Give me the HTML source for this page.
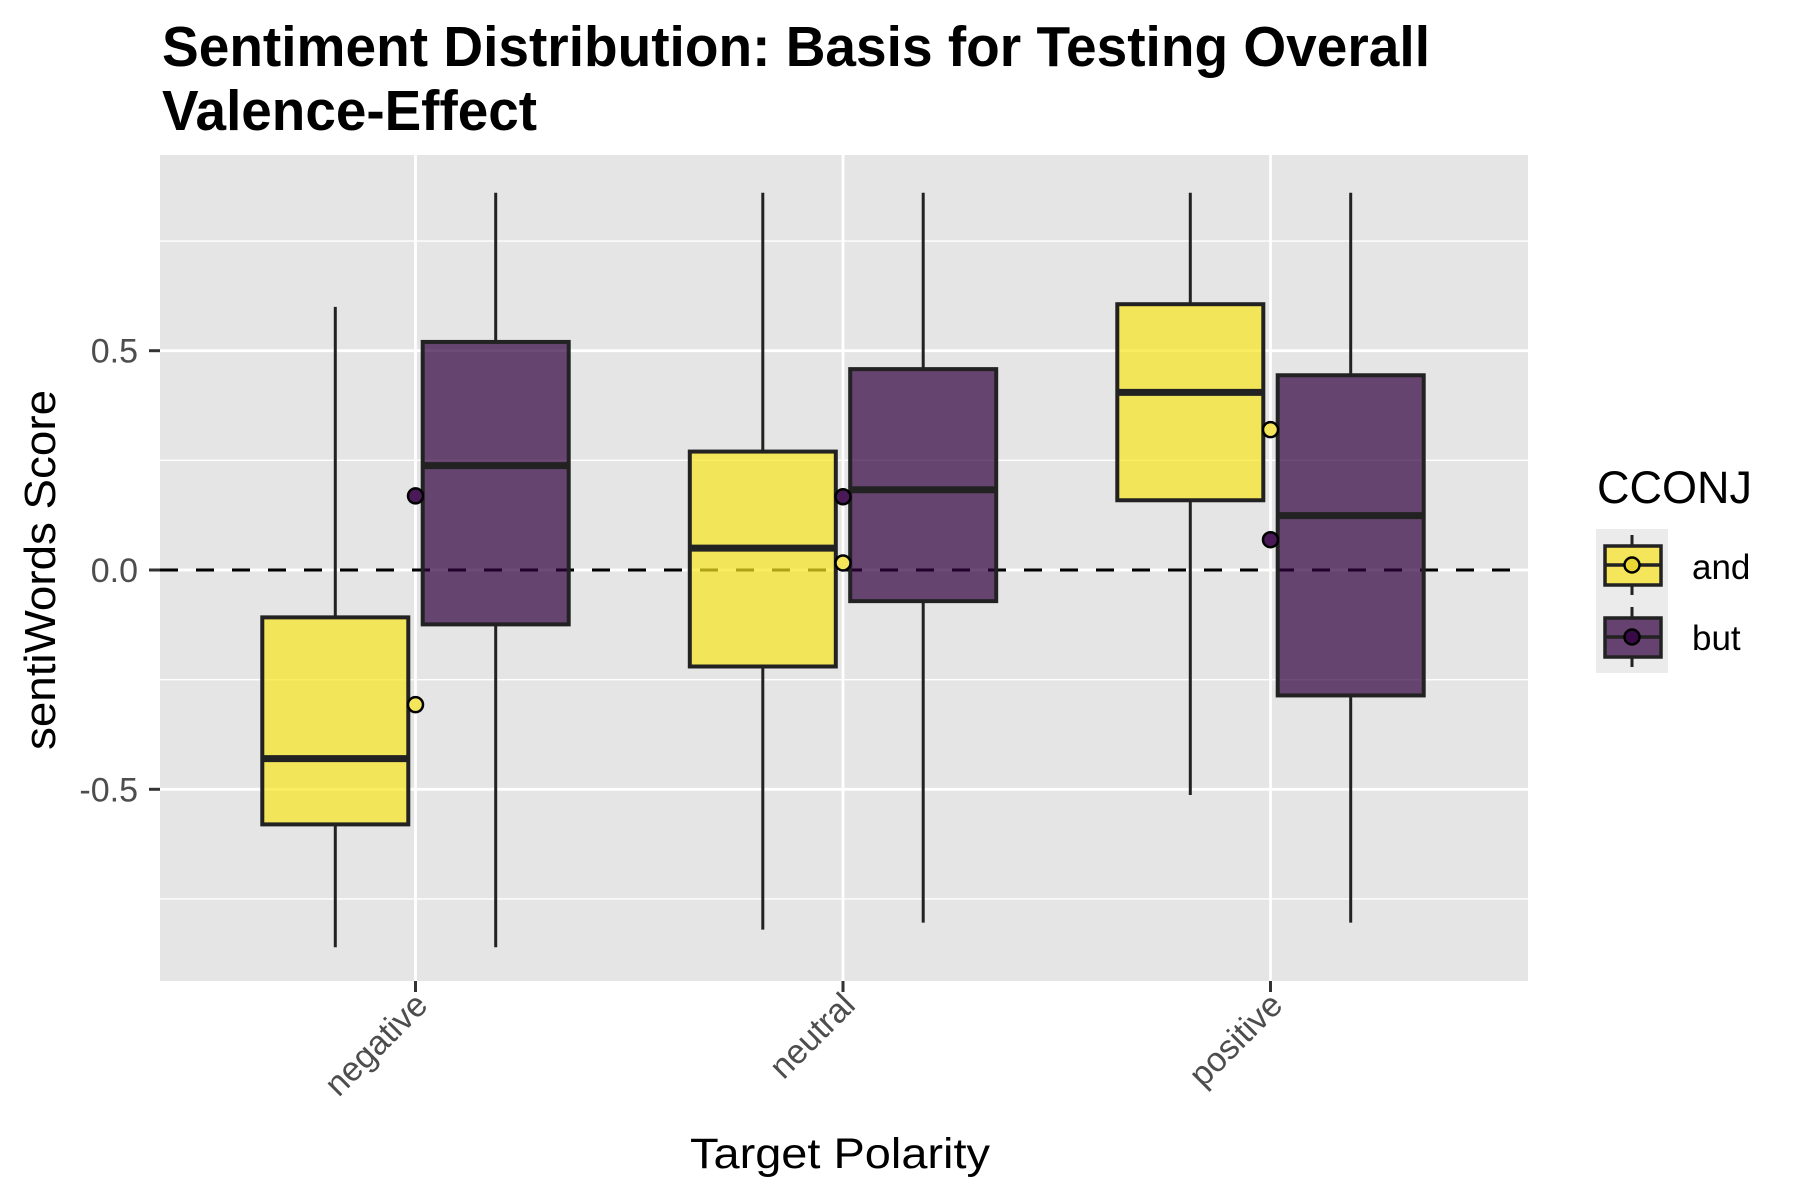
<!DOCTYPE html>
<html><head><meta charset="utf-8"><style>body{margin:0;background:#fff}svg{display:block;font-family:"Liberation Sans",Arial,sans-serif}</style></head>
<body>
<svg id="chart" width="1800" height="1200" viewBox="0 0 1800 1200">
<text x="162" y="66" font-size="57" font-weight="bold" fill="#000" textLength="1268" lengthAdjust="spacingAndGlyphs">Sentiment Distribution: Basis for Testing Overall</text>
<text x="162" y="130" font-size="57" font-weight="bold" fill="#000" textLength="375" lengthAdjust="spacingAndGlyphs">Valence-Effect</text>
<rect x="160" y="155" width="1368" height="826" fill="#e5e5e5"/>
<g id="grid"></g><g id="marks"></g><g id="axes"></g>
<text x="840" y="1168" font-size="43" text-anchor="middle" fill="#000" textLength="300" lengthAdjust="spacingAndGlyphs">Target Polarity</text>
<text transform="translate(55,570) rotate(-90)" font-size="44" text-anchor="middle" fill="#000" textLength="360" lengthAdjust="spacingAndGlyphs">sentiWords Score</text>
<g>
<text x="1597" y="503" font-size="45" fill="#000">CCONJ</text>
<rect x="1596" y="529" width="72" height="144" fill="#ebebeb"/>
<g>
<line x1="1632" y1="535" x2="1632" y2="595" stroke="#222" stroke-width="3"/>
<rect x="1605" y="546" width="56" height="39" fill="#F4E55A" stroke="#222" stroke-width="3.5"/>
<line x1="1605" y1="565" x2="1661" y2="565" stroke="#222" stroke-width="3.5"/>
<circle cx="1632" cy="565" r="7.5" fill="#EBD534" stroke="#000" stroke-width="2.5"/>
<text x="1692" y="579" font-size="35" fill="#000">and</text></g>
<g>
<line x1="1632" y1="607" x2="1632" y2="667" stroke="#222" stroke-width="3"/>
<rect x="1605" y="618" width="56" height="39" fill="#664270" stroke="#222" stroke-width="3.5"/>
<line x1="1605" y1="637" x2="1661" y2="637" stroke="#222" stroke-width="3.5"/>
<circle cx="1632" cy="637" r="7.5" fill="#3a0a48" stroke="#000" stroke-width="2.5"/>
<text x="1692" y="650" font-size="35" fill="#000">but</text></g>
</g>
</svg>
<script>
const categories = ["negative","neutral","positive"];
const groups = ["and","but"];
const groupColors = ["#FAE51E","#30003E"];
const pointColors = ["#F4E55A","#4a1a58"];
// per category: [and, but]
const whiskerLow = [[-0.86,-0.86],[-0.82,-0.804],[-0.513,-0.804]];
const q1Values   = [[-0.58,-0.124],[-0.22,-0.071],[0.159,-0.286]];
const medians    = [[-0.43,0.238],[0.05,0.183],[0.405,0.124]];
const q3Values   = [[-0.108,0.52],[0.27,0.458],[0.606,0.444]];
const whiskerHigh= [[0.60,0.86],[0.86,0.86],[0.86,0.86]];
const means      = [[-0.307,0.169],[0.016,0.167],[0.32,0.069]];
const yTicks = [-0.5,0,0.5];
const yTickLabels = ["-0.5","0.0","0.5"];
const yMinor = [-0.75,-0.25,0.25,0.75];

const NS="http://www.w3.org/2000/svg";
const px0=160, px1=1528, py0=155, py1=981;
const y = v => 570 - v*438.6;
const x = i => 415.5 + i*427.5;
const dodge = 80.2, bw = 146;
function mk(parent, tag, attrs){const e=document.createElementNS(NS,tag);for(const k in attrs)e.setAttribute(k,attrs[k]);document.getElementById(parent).appendChild(e);return e;}
yMinor.forEach(v=>{const l=mk('grid','line',{x1:px0,x2:px1,y1:y(v),y2:y(v),stroke:'#fff','stroke-width':1.4});

});
yTicks.forEach((v,i)=>{const l=mk('grid','line',{x1:px0,x2:px1,y1:y(v),y2:y(v),stroke:'#fff','stroke-width':2.8});


const t=mk('axes','text',{x:138,y:y(v)+12,'font-size':34,'text-anchor':'end',fill:'#4d4d4d'});t.textContent=yTickLabels[i];


const tk=mk('axes','line',{x1:149,x2:160,y1:y(v),y2:y(v),stroke:'#333','stroke-width':3});

});
categories.forEach((c,i)=>{const l=mk('grid','line',{x1:x(i),x2:x(i),y1:py0,y2:py1,stroke:'#fff','stroke-width':2.8});


const tk=mk('axes','line',{x1:x(i),x2:x(i),y1:py1,y2:py1+11,stroke:'#333','stroke-width':3});


const t=mk('axes','text',{transform:`translate(${x(i)+14},${py1+26}) rotate(-45)`,'font-size':34,'text-anchor':'end',fill:'#4d4d4d'});t.textContent=c;

});
const zl=mk('marks','line',{x1:px0,x2:px1,y1:y(0),y2:y(0),stroke:'#000','stroke-width':3,'stroke-dasharray':'18,18'});


categories.forEach((c,i)=>{groups.forEach((g,j)=>{
 const cx=x(i)+(j?dodge:-dodge);
 const w1=mk('marks','line',{x1:cx,x2:cx,y1:y(whiskerLow[i][j]),y2:y(q1Values[i][j]),stroke:'#222','stroke-width':3});
 
 
 const w2=mk('marks','line',{x1:cx,x2:cx,y1:y(q3Values[i][j]),y2:y(whiskerHigh[i][j]),stroke:'#222','stroke-width':3});
 
 
 const b=mk('marks','rect',{x:cx-bw/2,y:y(q3Values[i][j]),width:bw,height:y(q1Values[i][j])-y(q3Values[i][j]),fill:groupColors[j],'fill-opacity':0.7,stroke:'#222','stroke-width':4});
 
 
 const m=mk('marks','line',{x1:cx-bw/2,x2:cx+bw/2,y1:y(medians[i][j]),y2:y(medians[i][j]),stroke:'#222','stroke-width':7});
 
 
});});
categories.forEach((c,i)=>{groups.forEach((g,j)=>{
 const p=mk('marks','circle',{cx:x(i),cy:y(means[i][j]),r:7.5,fill:pointColors[j],stroke:'#000','stroke-width':2.5});
 
 
});});
</script>
</body></html>
